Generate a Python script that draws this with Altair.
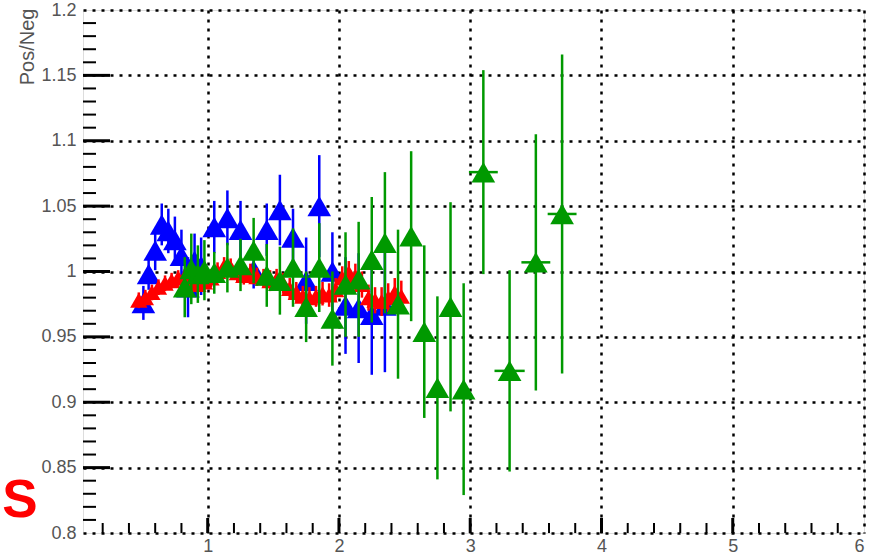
import altair as alt
import pandas as pd

# ---------------- data ----------------
RED_X = [0.475, 0.525, 0.575, 0.625, 0.675, 0.725, 0.775, 0.825, 0.875, 0.925,
         0.975, 1.025, 1.075, 1.125, 1.175, 1.225, 1.275, 1.325, 1.375, 1.425,
         1.475, 1.525, 1.575, 1.625, 1.675, 1.725, 1.775, 1.825, 1.875, 1.925,
         1.975, 2.025, 2.075, 2.125, 2.175, 2.225, 2.275, 2.325, 2.375, 2.425,
         2.475]
RED_Y = [0.978, 0.980, 0.984, 0.988, 0.991, 0.993, 0.995, 0.996, 0.993, 0.990,
         0.992, 0.995, 1.000, 1.004, 1.003, 0.999, 0.997, 0.999, 0.996, 0.995,
         0.993, 0.994, 0.991, 0.987, 0.984, 0.981, 0.980, 0.981, 0.983, 0.982,
         0.986, 0.995, 0.999, 0.996, 0.990, 0.980, 0.978, 0.977, 0.980, 0.984,
         0.981]
RED_ERR = [0.006, 0.006, 0.006, 0.006, 0.006, 0.006, 0.006, 0.006, 0.006, 0.006,
           0.006, 0.007, 0.007, 0.007, 0.007, 0.007, 0.007, 0.007, 0.007, 0.007,
           0.008, 0.008, 0.008, 0.008, 0.008, 0.008, 0.008, 0.008, 0.009, 0.009,
           0.009, 0.009, 0.009, 0.010, 0.010, 0.010, 0.010, 0.011, 0.011, 0.011,
           0.012]

BLUE_X = [0.51, 0.55, 0.60, 0.65, 0.70, 0.75, 0.80, 0.85, 0.90, 0.95,
          1.05, 1.15, 1.25, 1.35, 1.45, 1.55, 1.65, 1.75, 1.85, 1.95,
          2.05, 2.15, 2.25, 2.35]
BLUE_Y = [0.976, 0.998, 1.016, 1.036, 1.031, 1.024, 1.012, 0.988, 1.008, 1.004,
          1.034, 1.041, 1.032, 1.001, 1.032, 1.047, 1.026, 0.993, 1.050, 1.000,
          0.974, 0.972, 0.967, 0.974]
BLUE_ERR = [0.013, 0.012, 0.015, 0.016, 0.017, 0.018, 0.020, 0.023, 0.021, 0.022,
            0.020, 0.021, 0.022, 0.014, 0.020, 0.027, 0.022, 0.033, 0.039, 0.030,
            0.037, 0.042, 0.046, 0.051]

GREEN_X = [0.825, 0.875, 0.925, 0.975, 1.05, 1.15, 1.25, 1.35, 1.45, 1.55,
           1.65, 1.75, 1.85, 1.95, 2.05, 2.15, 2.25, 2.35, 2.45, 2.55,
           2.65, 2.75, 2.85, 2.95, 3.1, 3.3, 3.5, 3.7]
GREEN_Y = [0.988, 1.002, 0.998, 1.001, 0.999, 1.003, 1.005, 1.016, 0.997, 0.993,
           1.003, 0.973, 1.003, 0.964, 0.990, 0.994, 1.009, 1.022, 0.975, 1.027,
           0.954, 0.911, 0.973, 0.910, 1.076, 0.924, 1.007, 1.044]
GREEN_ERR = [0.023, 0.027, 0.022, 0.023, 0.016, 0.019, 0.020, 0.025, 0.024, 0.026,
             0.030, 0.027, 0.034, 0.036, 0.040, 0.044, 0.048, 0.054, 0.057, 0.065,
             0.066, 0.070, 0.080, 0.081, 0.078, 0.077, 0.098, 0.122]
GREEN_XERR = [0, 0, 0, 0, 0, 0, 0, 0, 0, 0,
              0, 0, 0, 0, 0, 0, 0, 0, 0, 0,
              0, 0, 0, 0, 0.11, 0.115, 0.11, 0.11]

X_LABELS = [1, 2, 3, 4, 5, 6]
Y_LABELS = [0.8, 0.85, 0.9, 0.95, 1.0, 1.05, 1.1, 1.15, 1.2]
X_MAJOR_TICKS = [1, 2, 3, 4, 5]
Y_MAJOR_TICKS = [0.85, 0.9, 0.95, 1.0, 1.05, 1.1, 1.15]
X_MINOR_TICKS = [round(0.2 * i, 2) for i in range(1, 30) if i % 5 != 0]
Y_MINOR_TICKS = [round(0.8 + 0.01 * i, 2) for i in range(1, 40) if i % 5 != 0]

Y_TITLE = "Pos/Neg"
CORNER_TEXT = "S"

# ---------------- tables ----------------
def series_df(xs, ys, es, xes=None):
    df = pd.DataFrame({"x": xs, "y": ys, "e": es})
    df["lo"] = df["y"] - df["e"]
    df["hi"] = df["y"] + df["e"]
    if xes is not None:
        df["xe"] = xes
        df["xlo"] = df["x"] - df["xe"]
        df["xhi"] = df["x"] + df["xe"]
    return df

red = series_df(RED_X, RED_Y, RED_ERR)
blue = series_df(BLUE_X, BLUE_Y, BLUE_ERR)
green = series_df(GREEN_X, GREEN_Y, GREEN_ERR, GREEN_XERR)
green_xe = green[green["xe"] > 0]

W, H = 781, 523
FONT = "Liberation Sans"
LABEL_COLOR = "#555555"

xs = alt.Scale(domain=[0.05, 6.0], nice=False, zero=False)
ys = alt.Scale(domain=[0.8, 1.2], nice=False, zero=False)

x_axis = alt.Axis(values=X_LABELS, title=None, ticks=False, domain=False,
                  grid=True, gridColor="black", gridDash=[3, 6], gridWidth=2.5,
                  labelFont=FONT, labelFontSize=18, labelColor=LABEL_COLOR,
                  labelPadding=4, format="d")
y_axis = alt.Axis(values=Y_LABELS, title=Y_TITLE, ticks=False, domain=False,
                  grid=True, gridColor="black", gridDash=[3, 6], gridWidth=2.5,
                  labelFont=FONT, labelFontSize=18, labelColor=LABEL_COLOR,
                  labelPadding=7, format="~g",
                  titleFont=FONT, titleFontSize=20, titleColor=LABEL_COLOR,
                  titleFontWeight="normal", titleAngle=270, titleAlign="right",
                  titleBaseline="middle", titleX=-56, titleY=-2)


def X(f):
    return alt.X(f, type="quantitative", scale=xs, axis=x_axis)


def Y(f):
    return alt.Y(f, type="quantitative", scale=ys, axis=y_axis)


# ticks drawn inward (ROOT style)
ymaj = alt.Chart(pd.DataFrame({"v": Y_MAJOR_TICKS})).mark_rule(
    color="black", strokeWidth=3).encode(y=Y("v:Q"), x=alt.value(0), x2=alt.value(27))
ymin = alt.Chart(pd.DataFrame({"v": Y_MINOR_TICKS})).mark_rule(
    color="black", strokeWidth=2).encode(y=Y("v:Q"), x=alt.value(0), x2=alt.value(13))
xmaj = alt.Chart(pd.DataFrame({"v": X_MAJOR_TICKS})).mark_rule(
    color="black", strokeWidth=3).encode(x=X("v:Q"), y=alt.value(H), y2=alt.value(H - 15))
xmin = alt.Chart(pd.DataFrame({"v": X_MINOR_TICKS})).mark_rule(
    color="black", strokeWidth=2).encode(x=X("v:Q"), y=alt.value(H), y2=alt.value(H - 10))


def err_layer(df, color, width):
    return alt.Chart(df).mark_rule(color=color, strokeWidth=width).encode(
        x=X("x:Q"), y=Y("lo:Q"), y2="hi:Q")


def pt_layer(df, color, size):
    return alt.Chart(df).mark_point(shape="triangle-up", filled=True, opacity=1,
                                    color=color, size=size, strokeWidth=0).encode(
        x=X("x:Q"), y=Y("y:Q"))


BLUE_C = "#0000ff"
RED_C = "#ff0000"
GREEN_C = "#009900"

green_xerr = alt.Chart(green_xe).mark_rule(color=GREEN_C, strokeWidth=2.5).encode(
    x=X("xlo:Q"), x2="xhi:Q", y=Y("y:Q"))

corner = alt.Chart(pd.DataFrame({"t": [CORNER_TEXT]})).mark_text(
    font=FONT, fontSize=53, fontWeight="bold", color=RED_C, align="center",
    baseline="alphabetic"
).encode(text="t:N", x=alt.value(-63), y=alt.value(507))

chart = alt.layer(
    ymin, ymaj, xmin, xmaj,
    err_layer(blue, BLUE_C, 2.5), pt_layer(blue, BLUE_C, 560),
    err_layer(red, RED_C, 2.5), pt_layer(red, RED_C, 300),
    err_layer(green, GREEN_C, 2.5), green_xerr, pt_layer(green, GREEN_C, 560),
    corner,
).properties(
    width=W, height=H,
    padding={"left": 83, "top": 10, "right": 14, "bottom": 23},
    autosize=alt.AutoSizeParams(type="none"),
).configure_view(
    stroke="black", strokeWidth=2
).configure(background="white")

chart.save("out.html", embed_options={"renderer": "svg", "actions": False})
